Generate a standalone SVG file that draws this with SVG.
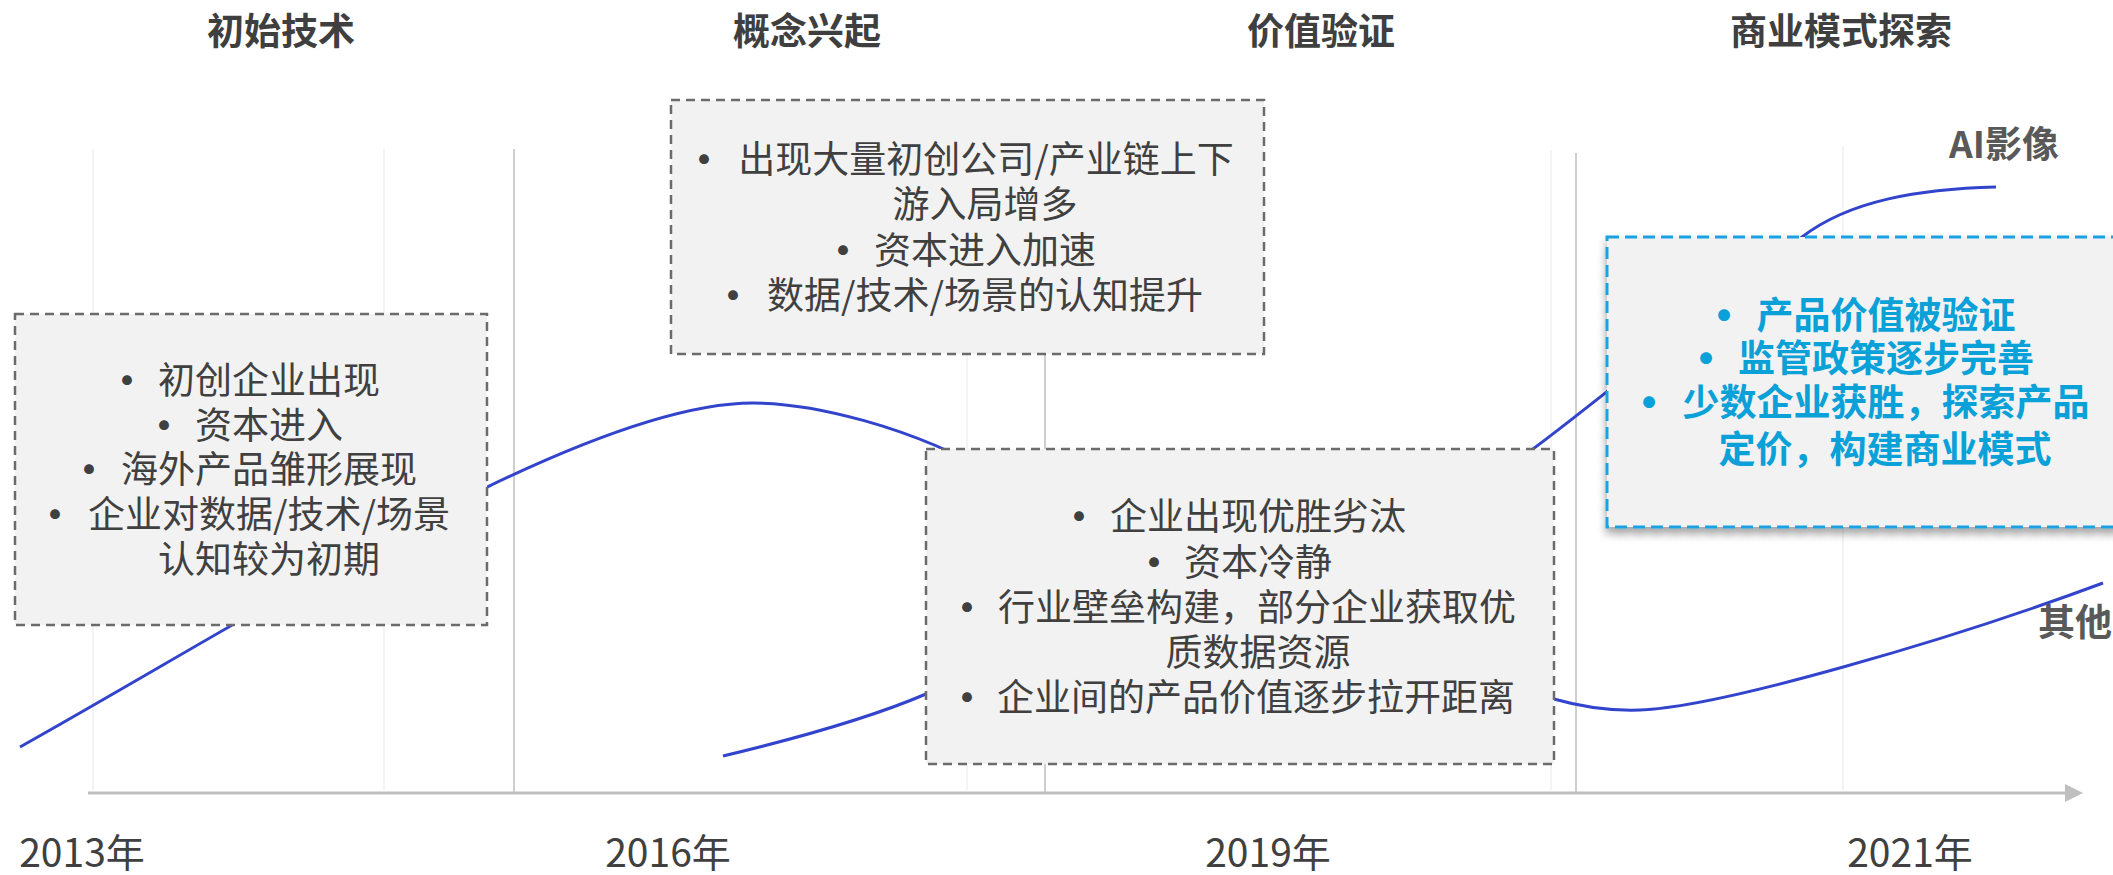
<svg xmlns="http://www.w3.org/2000/svg" width="2113" height="875" viewBox="0 0 2113 875">
  <style>
    .t { font-family: "Noto Sans CJK SC", "Noto Sans", sans-serif; }
    .title { font-size: 37px; font-weight: bold; fill: #3f3f3f; text-anchor: middle; }
    .label { font-size: 37px; font-weight: bold; fill: #595959; text-anchor: middle; }
    .year { font-size: 39px; fill: #404040; text-anchor: middle; }
    .body { font-size: 37px; fill: #404040; text-anchor: middle; }
    .blue { font-size: 37px; font-weight: bold; fill: #0aa0d8; text-anchor: middle; }
    .b { font-size: 46px; }
    .box { fill: #f2f2f2; stroke: #6b6b6b; stroke-width: 2.5; stroke-dasharray: 9 6; }
    .boxb { fill: #f2f2f2; stroke: #1ba1e2; stroke-width: 3; stroke-dasharray: 12 6; }
    .grid { stroke: #bfbfbf; stroke-width: 1.5; }
    .gridf { stroke: #f0f0f0; stroke-width: 1.5; }
    .curve { fill: none; stroke: #3344cc; stroke-width: 3; }
  </style>
  <defs>
    <marker id="arrow" markerWidth="6" markerHeight="6" refX="1" refY="3" orient="auto" markerUnits="strokeWidth">
      <path d="M0,0 L6,3 L0,6 Z" fill="#bfbfbf"/>
    </marker>
    <filter id="shadow" x="-10%" y="-10%" width="130%" height="130%">
      <feDropShadow dx="0" dy="6" stdDeviation="4" flood-color="#000" flood-opacity="0.35"/>
    </filter>
  </defs>
  <rect width="2113" height="875" fill="#ffffff"/>

  <g id="grid">
    <line class="gridf" x1="93" y1="149" x2="93" y2="790"/>
    <line class="gridf" x1="384" y1="149" x2="384" y2="790"/>
    <line class="gridf" x1="967" y1="149" x2="967" y2="790"/>
    <line class="gridf" x1="1551" y1="150" x2="1551" y2="790"/>
    <line class="gridf" x1="1843" y1="146" x2="1843" y2="790"/>
    <line class="grid" x1="514" y1="149" x2="514" y2="792"/>
    <line class="grid" x1="1045" y1="150" x2="1045" y2="792"/>
    <line class="grid" x1="1576" y1="153" x2="1576" y2="792"/>
  </g>

  <g id="axis">
    <line x1="88" y1="793" x2="2068" y2="793" stroke="#bfbfbf" stroke-width="3" marker-end="url(#arrow)"/>
  </g>

  <g id="connectors">
    <path id="curve-ai" class="curve" d="M20,747 C270,607 584,403 753,403 C810,403 910,425 1000,478 C1090,531 1150,570 1250,570 C1350,570 1450,510 1533,449 C1590,407 1740,285 1802,237 C1850,200 1920,189 1996,187"/>
    <path id="curve-other" class="curve" d="M723,756 C790,740 870,718 926,694 C1000,662 1100,640 1250,645 C1400,650 1480,680 1554,699 C1585,708 1610,711 1640,710 C1720,707 1950,640 2103,583"/>
  </g>

  <g id="titles" class="t">
    <text class="title" x="281" y="45">初始技术</text>
    <text class="title" x="807" y="45">概念兴起</text>
    <text class="title" x="1321" y="45">价值验证</text>
    <text class="title" x="1841" y="45">商业模式探索</text>
  </g>

  <g id="node-1">
    <rect class="box" x="15" y="314" width="472" height="311"/>
    <g class="t">
      <text class="body"><tspan class="b" x="127" y="397">•</tspan><tspan x="269" y="394">初创企业出现</tspan></text>
      <text class="body"><tspan class="b" x="164" y="442">•</tspan><tspan x="269" y="439">资本进入</tspan></text>
      <text class="body"><tspan class="b" x="89" y="486">•</tspan><tspan x="269" y="483">海外产品雏形展现</tspan></text>
      <text class="body"><tspan class="b" x="55" y="531">•</tspan><tspan x="269" y="528">企业对数据/技术/场景</tspan></text>
      <text class="body" x="269" y="573">认知较为初期</text>
    </g>
  </g>

  <g id="node-2">
    <rect class="box" x="671" y="100" width="593" height="254"/>
    <g class="t">
      <text class="body"><tspan class="b" x="704" y="176">•</tspan><tspan x="986" y="173">出现大量初创公司/产业链上下</tspan></text>
      <text class="body" x="985" y="218">游入局增多</text>
      <text class="body"><tspan class="b" x="843" y="267">•</tspan><tspan x="985" y="264">资本进入加速</tspan></text>
      <text class="body"><tspan class="b" x="733" y="312">•</tspan><tspan x="985" y="309">数据/技术/场景的认知提升</tspan></text>
    </g>
  </g>

  <g id="node-3">
    <rect class="box" x="926" y="449" width="628" height="315"/>
    <g class="t">
      <text class="body"><tspan class="b" x="1079" y="533">•</tspan><tspan x="1258" y="530">企业出现优胜劣汰</tspan></text>
      <text class="body"><tspan class="b" x="1154" y="579">•</tspan><tspan x="1258" y="576">资本冷静</tspan></text>
      <text class="body"><tspan class="b" x="967" y="624">•</tspan><tspan x="1257" y="621">行业壁垒构建，部分企业获取优</tspan></text>
      <text class="body" x="1258" y="666">质数据资源</text>
      <text class="body"><tspan class="b" x="967" y="714">•</tspan><tspan x="1256" y="711">企业间的产品价值逐步拉开距离</tspan></text>
    </g>
  </g>

  <g id="node-4">
    <rect class="boxb" x="1607" y="237" width="540" height="290" filter="url(#shadow)"/>
    <g class="t">
      <text class="blue"><tspan class="b" x="1724" y="332">•</tspan><tspan x="1886" y="329">产品价值被验证</tspan></text>
      <text class="blue"><tspan class="b" x="1706" y="375">•</tspan><tspan x="1886" y="372">监管政策逐步完善</tspan></text>
      <text class="blue"><tspan class="b" x="1649" y="419">•</tspan><tspan x="1886" y="416">少数企业获胜，探索产品</tspan></text>
      <text class="blue" x="1885" y="463">定价，构建商业模式</text>
    </g>
  </g>

  <g id="curve-labels" class="t">
    <text class="label" x="2004" y="158">AI影像</text>
    <text class="label" x="2075" y="636">其他</text>
  </g>

  <g id="years" class="t">
    <text class="year" x="82" y="867">2013年</text>
    <text class="year" x="668" y="867">2016年</text>
    <text class="year" x="1268" y="867">2019年</text>
    <text class="year" x="1910" y="867">2021年</text>
  </g>
</svg>
